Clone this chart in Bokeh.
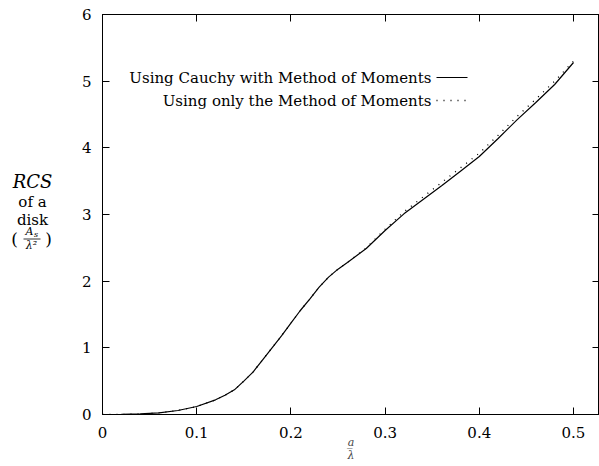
from bokeh.plotting import figure
from bokeh.models import LinearAxis, Label, Range1d, FixedTicker
from bokeh.layouts import row
from bokeh.core.properties import value
from bokeh.embed import file_html
from bokeh.resources import INLINE

# ---- data ----
a_over_lambda = [0, 0.02, 0.04, 0.06, 0.08, 0.10, 0.12, 0.13, 0.14, 0.15, 0.16, 0.17,
                 0.18, 0.19, 0.20, 0.21, 0.22, 0.23, 0.24, 0.25, 0.26, 0.28, 0.30,
                 0.32, 0.34, 0.36, 0.38, 0.40, 0.42, 0.44, 0.46, 0.48, 0.50]
rcs_cauchy_mom = [0, 0.001, 0.008, 0.025, 0.06, 0.12, 0.22, 0.29, 0.37, 0.50, 0.64, 0.82,
                  1.00, 1.18, 1.37, 1.56, 1.73, 1.91, 2.06, 2.18, 2.28, 2.49, 2.76,
                  3.01, 3.22, 3.43, 3.65, 3.87, 4.14, 4.42, 4.68, 4.95, 5.28]
rcs_mom_only = [0, 0.001, 0.008, 0.025, 0.06, 0.12, 0.22, 0.29, 0.37, 0.50, 0.64, 0.82,
                1.00, 1.18, 1.37, 1.56, 1.73, 1.91, 2.06, 2.18, 2.28, 2.50, 2.78,
                3.04, 3.26, 3.48, 3.70, 3.92, 4.19, 4.47, 4.73, 5.00, 5.30]
x_ticks = [0, 0.1, 0.2, 0.3, 0.4, 0.5]
x_tick_labels = ["0", "0.1", "0.2", "0.3", "0.4", "0.5"]
y_ticks = [0, 1, 2, 3, 4, 5, 6]
series_names = ["Using Cauchy with Method of Moments", "Using only the Method of Moments"]

FONT = "DejaVu Serif"
W, H = 599, 466
SIDE = 70                    # width of the left strip holding the y-axis label
LEFT, TOP, BOTTOM = 102, 14, 52
X_END = 0.5276

# ---------------- left strip: y-axis label ----------------
# (its frame is aligned by the row layout with the main frame: page rows TOP..H-BOTTOM)
side = figure(width=SIDE, height=H, output_backend="svg", toolbar_location=None,
              x_range=Range1d(0, SIDE), y_range=Range1d(H - BOTTOM, TOP),
              min_border=0, min_border_left=0, min_border_right=0,
              min_border_top=0, min_border_bottom=0)
side.axis.visible = False
side.grid.visible = False
side.outline_line_color = None

def stext(x, y, t, size, style="normal"):
    side.text(x=[x], y=[y], text=[t], text_align="center", text_baseline="middle",
              text_font=value(FONT), text_font_size=size, text_font_style=style,
              text_color="black")

stext(32, 181, "RCS", "18px", "italic")
stext(32, 201, "of a", "15px")
stext(32, 219, "disk", "15px")
stext(14, 238, "(", "17px")
stext(48, 238, ")", "17px")
stext(29, 231, "A", "11px", "italic")
stext(35.5, 233.5, "s", "8px", "italic")
stext(31, 245, "\u03bb\u00b2", "11px", "italic")
side.segment(x0=[23], y0=[238.5], x1=[40], y1=[238.5], line_color="black", line_width=0.8)

# ---------------- main plot ----------------
p = figure(width=W - SIDE, height=H, output_backend="svg", toolbar_location=None,
           x_range=Range1d(0, X_END), y_range=Range1d(0, 6),
           min_border_left=LEFT - SIDE, min_border_right=0, min_border_top=TOP,
           min_border_bottom=BOTTOM, background_fill_color="white",
           border_fill_color="white")
p.grid.visible = False
p.outline_line_color = "black"
p.outline_line_width = 1

fw = W - LEFT
fh = H - TOP - BOTTOM
def px2x(px):
    return (px - LEFT) / fw * X_END
def py2y(py):
    return (H - BOTTOM - py) / fh * 6

for ax in (p.xaxis[0], p.yaxis[0]):
    ax.major_tick_in = 7
    ax.major_tick_out = 0
    ax.minor_tick_in = 0
    ax.minor_tick_out = 0
    ax.axis_line_color = "black"
    ax.major_tick_line_color = "black"
    ax.major_label_text_font = FONT
    ax.major_label_text_font_size = "15px"
    ax.major_label_text_color = "black"

p.xaxis[0].ticker = FixedTicker(ticks=x_ticks)
p.xaxis[0].major_label_overrides = {t: l for t, l in zip(x_ticks, x_tick_labels)}
p.xaxis[0].major_label_standoff = 12
p.xaxis[0].axis_label = "a\u0332\n\u03bb"
p.xaxis[0].axis_label_text_font = FONT
p.xaxis[0].axis_label_text_font_size = "11px"
p.xaxis[0].axis_label_text_font_style = "italic"
p.xaxis[0].axis_label_standoff = -5
p.xaxis[0].axis_label_text_line_height = 1.05
p.yaxis[0].ticker = FixedTicker(ticks=y_ticks)
p.yaxis[0].major_label_standoff = 11

top_axis = LinearAxis(ticker=FixedTicker(ticks=x_ticks), major_tick_in=7, major_tick_out=0,
                      minor_tick_in=0, minor_tick_out=0, major_label_standoff=0,
                      major_label_overrides={t: "" for t in x_ticks},
                      axis_line_color="black")
p.add_layout(top_axis, "above")
right_axis = LinearAxis(ticker=FixedTicker(ticks=y_ticks), major_tick_in=7, major_tick_out=0,
                        minor_tick_in=0, minor_tick_out=0, major_label_standoff=0,
                        major_label_overrides={t: "" for t in y_ticks},
                        axis_line_color="black")
p.add_layout(right_axis, "right")

# curves
p.line(a_over_lambda, rcs_cauchy_mom, line_color="black", line_width=1.2)
p.line(a_over_lambda, rcs_mom_only, line_color="black", line_width=1.3, line_dash="1 6")

def lab(px, py, text, size, style="normal", align="center"):
    # screen units are relative to the plot frame's bottom-left corner
    p.add_layout(Label(x=px - LEFT, y=(H - BOTTOM) - py, x_units="screen", y_units="screen",
                       text=text, text_align=align, text_baseline="middle", text_font=FONT,
                       text_font_size=size, text_font_style=style, text_color="black"))

# legend (text right-aligned, sample to the right, as in gnuplot)
lab(431, 77, series_names[0], "15px", align="right")
lab(431, 100, series_names[1], "15px", align="right")
p.line([px2x(436), px2x(467)], [py2y(77), py2y(77)], line_color="black", line_width=1)
p.line([px2x(436), px2x(468)], [py2y(100), py2y(100)], line_color="black", line_width=1.3,
       line_dash="1 6")

layout = row(side, p, spacing=0)
open("out.html", "w").write(file_html(layout, INLINE))
